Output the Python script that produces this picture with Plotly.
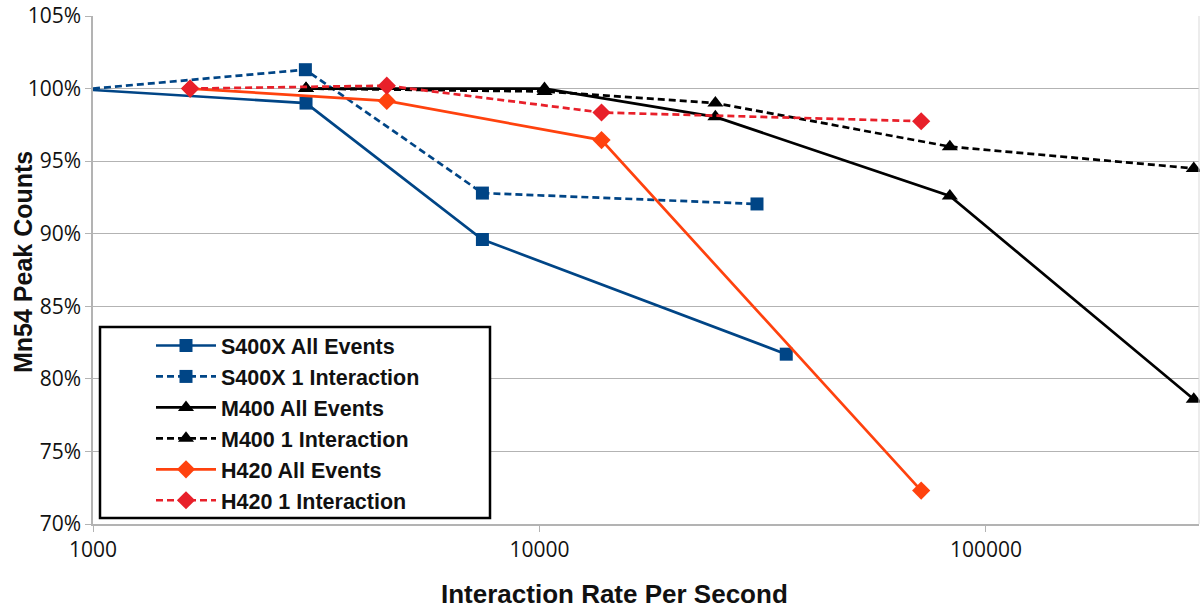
import plotly.graph_objects as go
import math

# Data
s400x_all_x = [1000, 3000, 7450, 35700]
s400x_all_y = [99.9, 99.0, 89.6, 81.7]

s400x_1i_x = [1000, 2990, 7450, 30700]
s400x_1i_y = [100.0, 101.3, 92.8, 92.05]

m400_all_x = [3000, 10260, 24770, 83000, 292000]
m400_all_y = [100.0, 100.0, 98.05, 92.6, 78.6]

m400_1i_x = [3000, 10260, 24770, 83000, 292000]
m400_1i_y = [100.0, 99.8, 99.0, 96.0, 94.5]

h420_all_x = [1650, 4550, 13770, 71600]
h420_all_y = [100.0, 99.15, 96.45, 72.3]

h420_1i_x = [1650, 4550, 13770, 71600]
h420_1i_y = [100.0, 100.2, 98.35, 97.75]

series_names = ["S400X All Events", "S400X 1 Interaction", "M400 All Events",
                "M400 1 Interaction", "H420 All Events", "H420 1 Interaction"]

y_ticks = [70, 75, 80, 85, 90, 95, 100, 105]
y_tick_labels = ["70%", "75%", "80%", "85%", "90%", "95%", "100%", "105%"]
x_ticks = [1000, 10000, 100000]
x_tick_labels = ["1000", "10000", "100000"]

x_title = "Interaction Rate Per Second"
y_title = "Mn54 Peak Counts"

BLUE = "#004586"
BLACK = "#000000"
ORANGE = "#ff420e"
RED = "#e8202a"
DASH = "7px,4px"
TITLE_FONT = "Liberation Sans"

fig = go.Figure()

def add(xs, ys, name, color, dash, symbol, msize):
    fig.add_trace(go.Scatter(
        x=xs, y=ys, name=name, mode="lines+markers",
        line=dict(color=color, width=2.7, dash=dash),
        marker=dict(color=color, symbol=symbol, size=msize),
        cliponaxis=False,
    ))

add(s400x_all_x, s400x_all_y, series_names[0], BLUE, "solid", "square", 13)
add(s400x_1i_x, s400x_1i_y, series_names[1], BLUE, DASH, "square", 13)
add(m400_all_x, m400_all_y, series_names[2], BLACK, "solid", "triangle-up", 14)
add(m400_1i_x, m400_1i_y, series_names[3], BLACK, DASH, "triangle-up", 14)
add(h420_all_x, h420_all_y, series_names[4], ORANGE, "solid", "diamond", 14)
add(h420_1i_x, h420_1i_y, series_names[5], RED, DASH, "diamond", 14)

W, H = 1200, 608
ML, MR, MT, MB = 93, 1, 16, 84
pw = W - ML - MR
ph = H - MT - MB

def px_to_paper_x(px):
    return (px - ML) / pw

def px_to_paper_y(py):
    return 1 - (py - MT) / ph

# legend border box
fig.add_shape(type="rect", xref="paper", yref="paper",
              x0=px_to_paper_x(100), x1=px_to_paper_x(490),
              y0=px_to_paper_y(518), y1=px_to_paper_y(327),
              line=dict(color="black", width=2.5), fillcolor="white", layer="above")

# axis titles as annotations for exact placement
fig.add_annotation(text="<b>" + x_title + "</b>", xref="paper", yref="paper",
                   x=px_to_paper_x(614), y=px_to_paper_y(594),
                   xanchor="center", yanchor="middle", showarrow=False,
                   font=dict(family=TITLE_FONT, size=26, color="#111111"))
fig.add_annotation(text="<b>" + y_title + "</b>", xref="paper", yref="paper",
                   x=px_to_paper_x(23), y=px_to_paper_y(262),
                   xanchor="center", yanchor="middle", showarrow=False, textangle=-90,
                   font=dict(family=TITLE_FONT, size=25, color="#111111"))

fig.update_layout(
    width=W, height=H,
    margin=dict(l=ML, r=MR, t=MT, b=MB, autoexpand=False),
    paper_bgcolor="white", plot_bgcolor="white",
    font=dict(family="Open Sans", color="black"),
    showlegend=True,
    legend=dict(
        x=px_to_paper_x(151), y=px_to_paper_y(325), xanchor="left", yanchor="top",
        bgcolor="rgba(0,0,0,0)", borderwidth=0,
        font=dict(family=TITLE_FONT, size=21.5, color="#111111", weight="bold"),
        itemwidth=60, tracegroupgap=0,
    ),
    xaxis=dict(
        type="log", range=[3, math.log10(300000)],
        tickvals=x_ticks, ticktext=x_tick_labels,
        showgrid=False, zeroline=False, automargin=False,
        showline=True, linecolor="#b3b3b3", linewidth=1.5,
        ticks="outside", ticklen=6, tickcolor="#b3b3b3",
        tickfont=dict(size=21, color="#111111"),
        mirror=False,
    ),
    yaxis=dict(
        range=[70, 105], tickvals=y_ticks, ticktext=y_tick_labels,
        showgrid=True, gridcolor="#b3b3b3", gridwidth=1,
        zeroline=False, automargin=False,
        showline=True, linecolor="#b3b3b3", linewidth=1.5,
        ticks="outside", ticklen=6, tickcolor="#b3b3b3",
        tickfont=dict(size=21, color="#111111"),
    ),
)

# right-hand thin plot edge
fig.add_shape(type="line", xref="paper", yref="paper", x0=1, x1=1, y0=0, y1=1,
              line=dict(color="#d9d9d9", width=1))

fig.write_html("out.html", config={"displayModeBar": False},
               post_script="document.body.style.margin='0';document.body.style.overflow='hidden';")
